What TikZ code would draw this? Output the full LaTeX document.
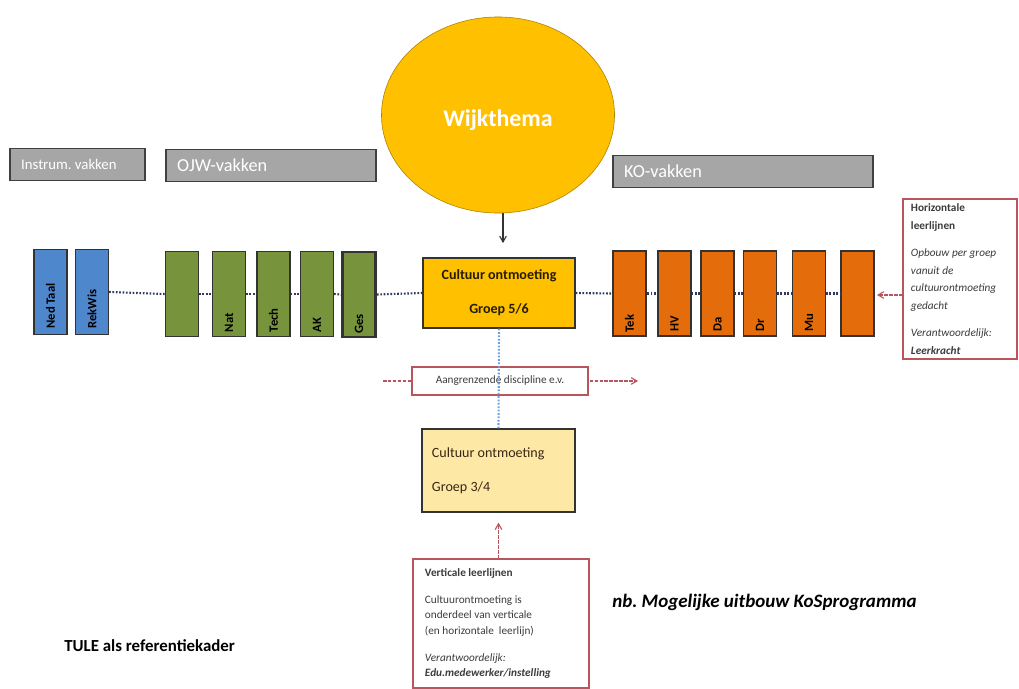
\documentclass[tikz,border=0pt]{standalone}
\usepackage{fontspec}
\setmainfont{Carlito}
\usepackage{tikz}
\usetikzlibrary{shapes,arrows}
\frenchspacing

\definecolor{goud}{RGB}{255,192,0}
\definecolor{goudrand}{RGB}{170,128,0}
\definecolor{blauw}{RGB}{79,135,205}
\definecolor{groen}{RGB}{119,147,60}
\definecolor{oranje}{RGB}{228,108,10}
\definecolor{lichtgeel}{RGB}{253,232,166}
\definecolor{rood}{RGB}{185,85,92}
\definecolor{grijs}{RGB}{166,166,166}
\definecolor{stip}{RGB}{45,60,95}
\definecolor{lichtblauw}{RGB}{110,160,225}
\definecolor{tekst}{RGB}{60,60,60}

\begin{document}
\begin{tikzpicture}
		[
		x = 0.025cm, y = -0.025cm,
		>=angle 60,
		vak/.style = {draw=black!75, line width=1pt, fill=grijs, text=white, align=flush left, inner xsep=0.28cm, minimum height=0.8cm},
		bar/.style = {draw=black!80, line width=0.8pt, minimum width=0.825cm, minimum height=2.125cm},
		barlabel/.style = {rotate=90, anchor=west, font=\bfseries\fontsize{9}{10}\selectfont},
		stippel/.style = {draw=stip, dash pattern=on 1.2pt off 1.2pt, line width=1.5pt},
		pijl/.style = {->, draw=rood, dash pattern=on 2.5pt off 1pt, line width=0.8pt},
		kader/.style = {draw=rood, line width=0.8pt, fill=white, text=tekst, align=flush left}
		]
		
		\useasboundingbox (0,0) rectangle (1019,689);
		
		\node[ellipse, draw=goudrand, fill=goud, minimum width=5.825cm, minimum height=4.9cm, text=white, text height=19pt, text depth=3pt, font=\bfseries\fontsize{17}{20}\selectfont] (wijk) at (498,115) {Wijkthema};
		
		\node[vak, text width=2.815cm, font=\fontsize{10.5}{12}\selectfont] (instrum) at (77.5,164.5) {Instrum. vakken};
		\node[vak, text width=4.69cm, font=\fontsize{13}{15}\selectfont] (ojw) at (271,165.5) {OJW-vakken};
		\node[vak, text width=5.94cm, font=\fontsize{13}{15}\selectfont] (ko) at (743,171.5) {KO-vakken};
		
		% vakken
		\foreach \name/\x/\txt in {nedtaal/50.5/Ned Taal, rekwis/92/RekWis}
			\node[bar, fill=blauw] (\name) at (\x,292) {} node[barlabel] (\name-t) at ([yshift=1pt]\name.south) {\txt};
		\foreach \name/\x/\txt in {g0/182/, nat/229/Nat, tech/273.5/Tech, ak/317/AK}
			\node[bar, fill=groen] (\name) at (\x,294) {} node[barlabel] (\name-t) at (\name.south) {\txt};
		\node[bar, fill=groen, line width=2pt] (ges) at (359,294.5) {} node[barlabel] (ges-t) at (ges.south) {Ges};
		\node[bar, fill=oranje, line width=2pt] (tek) at (629.5,293.5) {} node[barlabel] (tek-t) at (tek.south) {Tek};
		\foreach \name/\x/\txt in {hv/674.5/HV, da/717.5/Da, dr/760/Dr, mu/809/Mu, o6/857.5/}
			\node[bar, fill=oranje] (\name) at (\x,293.5) {} node[barlabel] (\name-t) at (\name.south) {\txt};
		
		\node[draw=black!80, line width=1pt, fill=goud, minimum width=3.8cm, minimum height=1.75cm, align=center, text=black!85!goud, font=\bfseries\fontsize{10}{24}\selectfont] (cult56) at (499,293) {Cultuur ontmoeting\\Groep 5/6};
		
		\draw[stippel] (rekwis.east) -- (g0.west);
		\draw[stippel] (g0.east) -- (nat.west);
		\draw[stippel] (nat.east) -- (tech.west);
		\draw[stippel] (tech.east) -- (ak.west);
		\draw[stippel] (ak.east) -- (ges.west);
		\draw[stippel] (ges.east) -- (cult56.west);
		\draw[stippel] (cult56.east) -- (tek.west);
		\draw[stippel] (tek.east) -- (hv.west);
		\draw[stippel] (hv.east) -- (da.west);
		\draw[stippel] (da.east) -- (dr.west);
		\draw[stippel] (dr.east) -- (mu.west);
		\draw[stippel] (mu.east) -- (o6.west);
		
		\coordinate (wijkpunt) at (503,243);
		\draw[->, black!80, line width=0.8pt] (wijk.south -| wijkpunt) -- (wijkpunt);
		
		\node[kader, text width=2.45cm, inner xsep=0.2cm, minimum height=3.95cm, font=\fontsize{8}{12.5}\selectfont] (hor) at (960,279) {\textbf{Horizontale}\\\textbf{leerlijnen}\\[7pt]\textit{Opbouw per groep}\\\textit{vanuit de}\\\textit{cultuurontmoeting}\\\textit{gedacht}\\[7pt]\textit{Verantwoordelijk:}\\\textbf{\textit{Leerkracht}}};
		\coordinate (horpunt) at (877,295);
		\draw[pijl] (hor.west |- horpunt) -- (horpunt);
		
		\coordinate (aanglinks) at (383,381);
		\coordinate (aangrechts) at (638,381);
		\draw[pijl] (aanglinks) -- (aangrechts);
		\node[kader, minimum width=4.4cm, minimum height=0.7cm, font=\fontsize{8}{10}\selectfont] (aang) at (500,381) {Aangrenzende discipline e.v.};
		
		\node[draw=black!80, line width=1pt, fill=lichtgeel, text width=3.325cm, inner xsep=0.25cm, minimum height=2.075cm, align=flush left, text=black!70!brown, font=\fontsize{10}{24}\selectfont] (cult34) at (498.5,470.5) {Cultuur ontmoeting\\Groep 3/4};
		\draw[draw=lichtblauw, dash pattern=on 1.2pt off 1.2pt, line width=1.5pt] (cult56.south) -- (cult34.north);
		
		\node[kader, text width=3.8cm, inner xsep=0.3cm, minimum height=3.225cm, font=\fontsize{8}{10.7}\selectfont] (vert) at (501,623.5) {\textbf{Verticale leerlijnen}\\[9pt]Cultuurontmoeting is\\onderdeel van verticale\\(en horizontale\ \ leerlijn)\\[9pt]\textit{Verantwoordelijk:}\\\textbf{\textit{Edu.medewerker/instelling}}};
		\draw[pijl] (vert.north -| cult34.south) -- ([yshift=-0.25cm]cult34.south);
		
		\node[anchor=west, inner sep=0pt, font=\bfseries\itshape\fontsize{13.5}{16}\selectfont] (nb) at (612,602) {nb. Mogelijke uitbouw KoSprogramma};
		\node[anchor=west, inner sep=0pt, font=\bfseries\fontsize{12}{14}\selectfont] (tule) at (64,646) {TULE als referentiekader};
		
\end{tikzpicture}
\end{document}
